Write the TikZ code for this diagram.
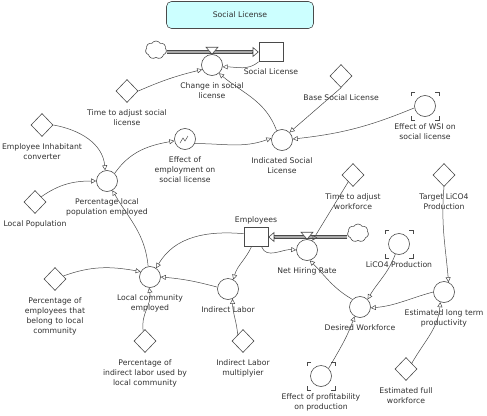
\documentclass[tikz,border=0pt]{standalone}
\usepackage{fontspec}
\setmainfont{DejaVu Sans}
\usepackage{tikz}
\usetikzlibrary{arrows.meta,shapes.geometric,shapes.symbols}
\definecolor{LineGray}{HTML}{4A4A4A}
\definecolor{TextGray}{HTML}{303030}
\definecolor{PipeGray}{HTML}{A8A8A8}
\definecolor{TitleFill}{HTML}{CCFFFF}

\begin{document}
\begin{tikzpicture}[x=1pt,y=1pt,
  every label/.style={font=\fontsize{7.7}{10.2}\selectfont,align=center,text=TextGray,inner sep=1.2pt},
  label distance=5pt,
  stock/.style={draw=LineGray,line width=.6pt,minimum width=24pt,minimum height=19pt,inner sep=0pt},
  aux/.style={circle,draw=LineGray,line width=.6pt,minimum size=21pt,inner sep=0pt},
  const/.style={diamond,draw=LineGray,line width=.6pt,minimum width=22pt,minimum height=23pt,inner sep=0pt},
  cloudy/.style={cloud,cloud puffs=7,cloud puff arc=115,aspect=1.1,draw=LineGray,line width=.6pt,minimum width=21pt,minimum height=18pt,inner sep=0pt},
  headbox/.style={draw=LineGray,fill=TitleFill,rounded corners=5pt,line width=.6pt,minimum width=147pt,minimum height=27pt,font=\fontsize{7.7}{10}\selectfont,text=TextGray},
  link/.style={draw=LineGray,line width=.5pt,-{Triangle[open,length=5pt,width=5pt]}},
  pipe/.style={draw=LineGray,line width=.6pt,double=PipeGray,double distance=2.6pt},
  pipetip/.style={draw=LineGray,line width=.6pt,-{Triangle[open,length=6pt,width=10pt]}},
  valve/.style={draw=LineGray,fill=white,line width=.6pt},
  bracket/.style={draw=LineGray,line width=.6pt}]
  \useasboundingbox (0,0) rectangle (487,-415);
  \node[headbox] (head) at (240,-15) {Social License};
  % social license stock and its flow
  \node[cloudy] (sky1) at (156,-50) {};
  \node[stock,label={below:Social License}] (lic) at (271,-52) {};
  \node[aux,label={below:Change in social\\license}] (dlic) at (212,-65) {};
  \node[const,label={below:Time to adjust social\\license}] (tadj) at (127,-91) {};
  \node[const,label={below:Base Social License}] (base) at (341,-76) {};
  \node[aux,label={below:Effect of WSI on\\social license}] (wsi) at (425,-106) {};
  \node[aux,label={below:Indicated Social\\License}] (ind) at (282,-140) {};
  \node[aux,label={below:Effect of\\employment on\\social license}] (eemp) at (185,-139) {};
  \node[const,label={below:Employee Inhabitant\\converter}] (einh) at (42,-125) {};
  \node[const,label={below:Local Population}] (lpop) at (35,-202) {};
  \node[aux,label={below:Percentage local\\population employed}] (pct) at (107,-181) {};
  % workforce part
  \node[stock,label={[label distance=2pt]above:Employees}] (emps) at (256,-237) {};
  \node[aux,label={below:Net Hiring Rate}] (hire) at (307,-250) {};
  \node[cloudy] (sky2) at (358,-233) {};
  \node[const,label={below:Time to adjust\\workforce}] (tadw) at (353,-175) {};
  \node[aux,label={below:Local community\\employed}] (lce) at (150,-277) {};
  \node[aux,label={below:Indirect Labor}] (indl) at (228,-289) {};
  \node[const,label={below:Indirect Labor\\multiplyier}] (ilm) at (243,-341) {};
  \node[const,label={below:Percentage of\\employees that\\belong to local\\community}] (pemp) at (55,-279) {};
  \node[const,label={below:Percentage of\\indirect labor used by\\local community}] (pind) at (145,-341) {};
  \node[aux,label={below:Desired Workforce}] (dwf) at (360,-307) {};
  \node[aux,label={below:LiCO4 Production}] (lico) at (399,-244) {};
  \node[aux,label={below:Estimated long term\\productivity}] (eltp) at (444,-292) {};
  \node[const,label={below:Target LiCO4\\Production}] (tlico) at (444,-175) {};
  \node[const,label={below:Estimated full\\workforce}] (efw) at (406,-369) {};
  \node[aux,label={below:Effect of profitability\\on production}] (prof) at (321,-376) {};
  % pipes with valves
  \draw[pipe] (sky1.east |- lic.west) -- ([xshift=-6pt]lic.west);
  \draw[pipetip] ([xshift=-6.5pt]lic.west) -- (lic.west);
  \draw[valve] (dlic.north) -- ++(-6,7) -- ++(12,0) -- cycle;
  \draw[pipe] (sky2.west |- emps.east) -- ([xshift=6pt]emps.east);
  \draw[pipetip] ([xshift=6.5pt]emps.east) -- (emps.east);
  \draw[valve] (hire.north) -- ++(-6,7) -- ++(12,0) -- cycle;
  % ghost corners
  \foreach \g in {wsi,lico,prof}
    \foreach \sx/\sy in {1/1,1/-1,-1/1,-1/-1}
      \draw[bracket] ([shift={(\sx*10,\sy*14)}]\g.center) -- ([shift={(\sx*14,\sy*14)}]\g.center) -- ([shift={(\sx*14,\sy*10)}]\g.center);
  % graph mark
  \draw[line width=.5pt,LineGray] ([shift={(-5,-4)}]eemp.center) -- ++(3,5) -- ++(2,-3) -- ++(3,5);
  % links
  \draw[link] (lic.south west) to[out=220,in=0] (dlic.-10);
  \draw[link] (tadj.east) to[bend left=5] (dlic.205);
  \draw[link] (ind.120) to[out=110,in=-40] (dlic.-50);
  \draw[link] (base.south) -- (ind.45);
  \draw[link] (wsi.190) to[bend left=8] (ind.5);
  \draw[link] (eemp.-25) to[out=0,in=200] (ind.170);
  \draw[link] (einh.east) to[out=-10,in=95] (pct.100);
  \draw[link] (lpop.40) to[out=35,in=180] (pct.180);
  \draw[link] (lce.100) to[out=95,in=-60] (pct.-60);
  \draw[link] (pct.45) to[out=55,in=190] (eemp.190);
  \draw[link] (tadw.235) -- (hire.60);
  \draw[link] (emps.-60) to[out=-70,in=175] (hire.180);
  \draw[link] (emps.165) to[out=175,in=60] (lce.55);
  \draw[link] (emps.-115) to[out=-115,in=75] (indl.60);
  \draw[link] (indl.170) to[out=165,in=-5] (lce.0);
  \draw[link] (ilm.130) to[out=95,in=-90] (indl.-65);
  \draw[link] (pemp.20) to[out=20,in=170] (lce.150);
  \draw[link] (pind.100) to[out=100,in=-80] (lce.-95);
  \draw[link] (dwf.135) to[out=150,in=-45] (hire.-75);
  \draw[link] (lico.-110) to[out=-110,in=60] (dwf.45);
  \draw[link] (eltp.180) to[out=195,in=5] (dwf.-5);
  \draw[link] (tlico.south) to[out=-95,in=95] (eltp.65);
  \draw[link] (efw.45) to[out=60,in=-95] (eltp.-110);
  \draw[link] (prof.45) to[out=60,in=-110] (dwf.-120);
\end{tikzpicture}
\end{document}
